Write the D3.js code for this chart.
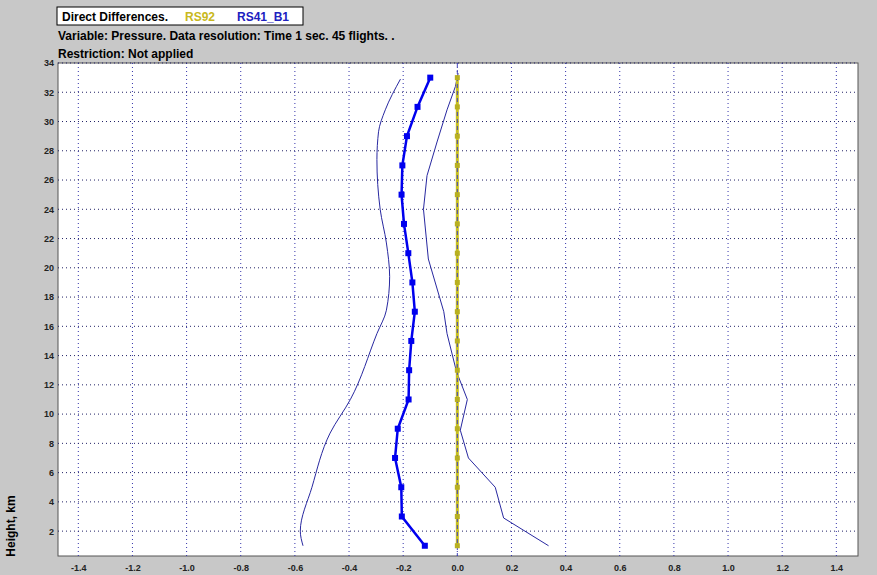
<!DOCTYPE html>
<html><head><meta charset="utf-8">
<script src="https://cdn.jsdelivr.net/npm/d3@7"></script>
<style>body{margin:0;background:#c8c8c8;font-family:Arial,"Liberation Sans",sans-serif}</style>
</head><body>
<script>
// mean differences RS41_B1 - RS92 (hPa), heights in km
const heights = [1,3,5,7,9,11,13,15,17,19,21,23,25,27,29,31,33];
const meanDiff = [-0.12,-0.205,-0.207,-0.23,-0.22,-0.18,-0.178,-0.17,-0.157,-0.166,-0.181,-0.197,-0.206,-0.203,-0.186,-0.147,-0.1];
const refDiff = heights.map(() => 0);
// envelope lines (mean ± sd)
const lowH = [1,2,5,8.7,11,15.5,17.1,19.4,21.7,24,27.4,29.3,30.8,32.9];
const lowV = [-0.57,-0.58,-0.537,-0.47,-0.395,-0.297,-0.262,-0.25,-0.262,-0.285,-0.297,-0.291,-0.266,-0.21];
const highH = [1,2.9,5,7,8.9,11,12.9,15.5,17,20.6,24,26.3,28.6,30.8,32.4,33.3];
const highV = [0.337,0.171,0.14,0.041,0.011,0.037,-0.003,-0.038,-0.05,-0.107,-0.125,-0.112,-0.075,-0.038,-0.007,0.003];
const xTicks = d3.range(-1.4, 1.41, 0.2).map(v => +v.toFixed(1));
const yTicks = d3.range(2, 35, 2);

const W = 877, H = 575;
const L = 58, R = 858, T = 63, B = 556;
const svg = d3.select("body").append("svg").attr("width", W).attr("height", H);
const x = d3.scaleLinear().domain([-1.475, 1.48]).range([L, R]);
const y = d3.scaleLinear().domain([0.3, 34]).range([B, T]);

svg.append("rect").attr("x", L).attr("y", T).attr("width", R - L).attr("height", B - T)
  .attr("fill", "#fff").attr("stroke", "#555");

// grid
svg.append("g").selectAll("line").data(xTicks).join("line")
  .attr("x1", d => x(d)).attr("x2", d => x(d)).attr("y1", T).attr("y2", B)
  .attr("stroke", "#3333aa").attr("stroke-dasharray", "1,3");
svg.append("g").selectAll("line").data(yTicks).join("line")
  .attr("x1", L).attr("x2", R).attr("y1", d => y(d)).attr("y2", d => y(d))
  .attr("stroke", "#222266").attr("stroke-dasharray", "1,3");

// axes
const fmt = d => d.toFixed(1);
svg.append("g").attr("transform", `translate(0,${B})`)
  .call(d3.axisBottom(x).tickValues(xTicks).tickFormat(fmt).tickSize(0).tickPadding(9))
  .call(g => g.select(".domain").remove())
  .call(g => g.selectAll("text").attr("font-size", 9).attr("font-weight", "bold").attr("fill", "#222"));
svg.append("g").attr("transform", `translate(${L},0)`)
  .call(d3.axisLeft(y).tickValues(yTicks).tickSize(0).tickPadding(4))
  .call(g => g.select(".domain").remove())
  .call(g => g.selectAll("text").attr("font-size", 9).attr("font-weight", "bold").attr("fill", "#222"));

svg.append("text").attr("transform", `translate(15,${B - 30}) rotate(-90)`)
  .attr("text-anchor", "middle").attr("font-size", 12).attr("font-weight", "bold").text("Height, km");

const line = d3.line().x(d => x(d[0])).y(d => y(d[1])).curve(d3.curveMonotoneY);

// envelopes
svg.append("path").datum(lowV.map((v, i) => [v, lowH[i]])).attr("d", line)
  .attr("fill", "none").attr("stroke", "#2828a0").attr("stroke-width", 1);
svg.append("path").datum(highV.map((v, i) => [v, highH[i]])).attr("d", d3.line().x(d => x(d[0])).y(d => y(d[1])))
  .attr("fill", "none").attr("stroke", "#2828a0").attr("stroke-width", 1);

// RS92 reference
svg.append("path").datum(refDiff.map((v, i) => [v, heights[i]])).attr("d", d3.line().x(d => x(d[0])).y(d => y(d[1])))
  .attr("fill", "none").attr("stroke", "#c8c020").attr("stroke-width", 3);
svg.append("line").attr("x1", x(0)).attr("x2", x(0)).attr("y1", T).attr("y2", B)
  .attr("stroke", "#4444bb").attr("stroke-dasharray", "4,3");
svg.append("g").selectAll("rect").data(heights).join("rect")
  .attr("x", x(0) - 2.5).attr("y", d => y(d) - 2.5).attr("width", 5).attr("height", 5)
  .attr("fill", "#b8b020");

// RS41 mean
svg.append("path").datum(meanDiff.map((v, i) => [v, heights[i]])).attr("d", d3.line().x(d => x(d[0])).y(d => y(d[1])))
  .attr("fill", "none").attr("stroke", "#0000ee").attr("stroke-width", 2.5);
svg.append("g").selectAll("rect").data(meanDiff).join("rect")
  .attr("x", d => x(d) - 3).attr("y", (d, i) => y(heights[i]) - 3).attr("width", 6).attr("height", 6)
  .attr("fill", "#0000ee");

// header
svg.append("rect").attr("x", 57).attr("y", 7).attr("width", 246).attr("height", 18)
  .attr("fill", "#fff").attr("stroke", "#000");
const hdr = svg.append("text").attr("x", 62).attr("y", 21).attr("font-size", 12).attr("font-weight", "bold");
hdr.append("tspan").text("Direct Differences.");
hdr.append("tspan").attr("x", 185).attr("fill", "#c8b820").text("RS92");
hdr.append("tspan").attr("x", 237).attr("fill", "#2020c0").text("RS41_B1");
svg.append("text").attr("x", 58).attr("y", 40).attr("font-size", 12).attr("font-weight", "bold")
  .text("Variable: Pressure. Data resolution: Time 1 sec. 45 flights.  .");
svg.append("text").attr("x", 58).attr("y", 58).attr("font-size", 12).attr("font-weight", "bold")
  .text("Restriction: Not applied");
</script>
</body></html>
